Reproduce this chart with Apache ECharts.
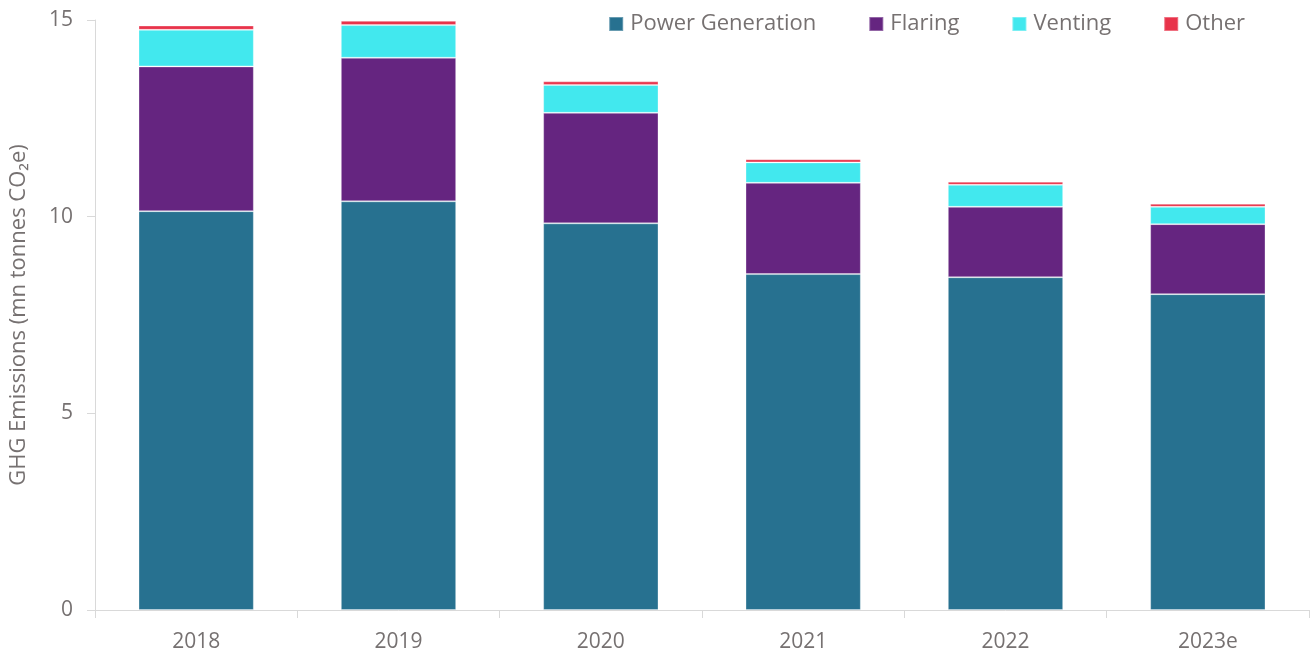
<!DOCTYPE html>
<html>
<head>
<meta charset="utf-8">
<title>GHG Emissions</title>
<script src="https://cdn.jsdelivr.net/npm/echarts@6/dist/echarts.min.js"></script>
<style>
  html, body { margin: 0; padding: 0; background: #fff; }
  #main { width: 1316px; height: 659px; }
</style>
</head>
<body>
<div id="main"></div>
<script>
// categories and stacked values (mn tonnes CO2e)
var years = ['2018', '2019', '2020', '2021', '2022', '2023e'];
var powerGen = [10.14, 10.39, 9.83, 8.54, 8.46, 8.03];
var flaring  = [3.68, 3.65, 2.81, 2.32, 1.79, 1.78];
var venting  = [0.93, 0.83, 0.71, 0.52, 0.56, 0.44];
var other    = [0.11, 0.11, 0.09, 0.08, 0.08, 0.08];

var myChart = echarts.init(document.getElementById('main'));

var textColor = '#767171';
var fontName = 'Open Sans';

function barSeries(name, data, color) {
    return {
        name: name,
        type: 'bar',
        stack: 'total',
        data: data,
        barWidth: '57%',
        itemStyle: {
            color: color,
            borderColor: 'rgba(255,255,255,0.3)',
            borderWidth: 1
        }
    };
}

option = {
    backgroundColor: '#ffffff',
    textStyle: { fontFamily: fontName },
    legend: {
        top: 8,
        right: 66,
        itemWidth: 14,
        itemHeight: 14,
        itemGap: 52,
        icon: 'rect',
        textStyle: {
            color: textColor,
            fontSize: 22,
            padding: [0, 0, 0, 2],
            fontFamily: fontName
        },
        data: ['Power Generation', 'Flaring', 'Venting', 'Other']
    },
    grid: {
        left: 95,
        right: 7,
        top: 20,
        bottom: 49,
        containLabel: false
    },
    xAxis: {
        type: 'category',
        data: years,
        axisLine: { lineStyle: { color: '#d9d9d9', width: 1 } },
        axisTick: { show: true, length: 8, lineStyle: { color: '#d9d9d9' } },
        axisLabel: {
            color: textColor,
            fontSize: 21,
            margin: 22,
            fontFamily: fontName
        }
    },
    yAxis: {
        type: 'value',
        min: 0,
        max: 15,
        interval: 5,
        name: 'GHG Emissions (mn tonnes CO₂e)',
        nameLocation: 'middle',
        nameGap: 65,
        nameTextStyle: {
            color: textColor,
            fontSize: 22,
            fontFamily: fontName
        },
        axisLine: { show: true, lineStyle: { color: '#d9d9d9', width: 1 } },
        axisTick: { show: true, length: 8, lineStyle: { color: '#d9d9d9' } },
        splitLine: { show: false },
        axisLabel: {
            color: textColor,
            fontSize: 21,
            margin: 22,
            fontFamily: fontName
        }
    },
    series: [
        barSeries('Power Generation', powerGen, '#277190'),
        barSeries('Flaring', flaring, '#652580'),
        barSeries('Venting', venting, '#42e8ee'),
        barSeries('Other', other, '#e8334a')
    ]
};

myChart.setOption(option);
</script>
</body>
</html>
